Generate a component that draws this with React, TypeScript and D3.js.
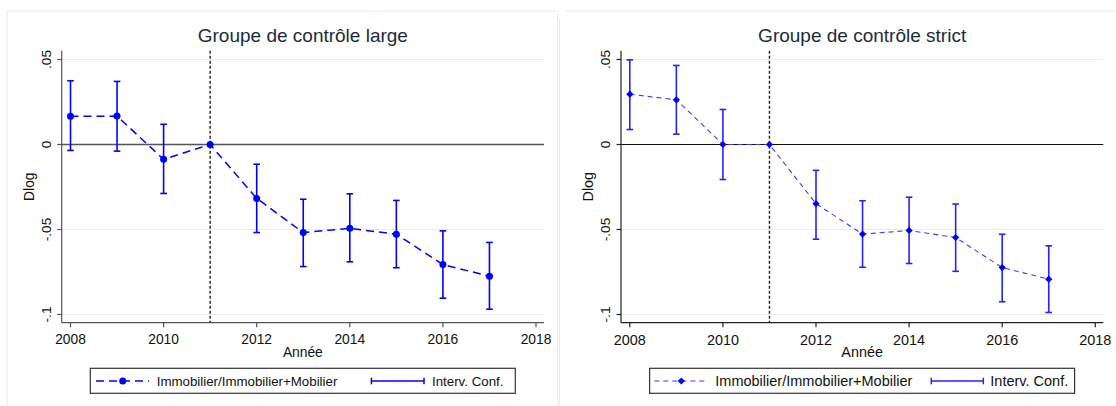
import React from "react";
import * as d3 from "d3";

// Event-study coefficients (Dlog), reference year 2011
const years = [2008, 2009, 2010, 2011, 2012, 2013, 2014, 2015, 2016, 2017];

const largeCoef = [0.0166, 0.0167, -0.0087, 0, -0.0317, -0.0518, -0.0493, -0.0528, -0.0706, -0.0775];
const largeLow = [-0.0035, -0.0039, -0.0288, null, -0.0518, -0.0718, -0.069, -0.0725, -0.0904, -0.0969];
const largeHigh = [0.0375, 0.0371, 0.0119, null, -0.0116, -0.0322, -0.029, -0.0329, -0.0508, -0.0576];

const strictCoef = [0.0296, 0.0263, 0, 0, -0.0348, -0.0527, -0.0506, -0.0547, -0.0724, -0.0792];
const strictLow = [0.0088, 0.0061, -0.0206, null, -0.0557, -0.0722, -0.07, -0.0746, -0.0925, -0.0988];
const strictHigh = [0.0498, 0.0465, 0.0206, null, -0.0152, -0.0331, -0.031, -0.035, -0.0528, -0.0596];

const xTicks = [2008, 2010, 2012, 2014, 2016, 2018];
const yTicks = [0.05, 0, -0.05, -0.1];
const yTickLabels = [".05", "0", "-.05", "-.1"];

const eventYear = 2011;
const seriesLabel = "Immobilier/Immobilier+Mobilier";
const ciLabel = "Interv. Conf.";
const xTitle = "Année";
const yTitle = "Dlog";

const FONT = "'Liberation Sans', Arial, sans-serif";
const BLUE = "#0000ff";

type PanelProps = {
  ox: number;
  title: string;
  coef: number[];
  low: (number | null)[];
  high: (number | null)[];
  variant: "circle" | "diamond";
};

function Panel({ ox, title, coef, low, high, variant }: PanelProps) {
  const left = 61.7;
  const right = 544;
  const top = 50.7;
  const bottom = 322.7;
  const x = d3.scaleLinear().domain([2008, 2018]).range([70.5, 536]);
  const y = d3.scaleLinear().domain([0.05, -0.1]).range([59.5, 314.5]);
  const isStrict = variant === "diamond";
  const fs = isStrict ? 14.4 : 13.8;
  const legFs = isStrict ? 14.5 : 13.3;
  const axisColor = isStrict ? "#222" : "#555";
  const lineColor = isStrict ? "#3a3aff" : BLUE;
  const ciColor = isStrict ? "#2323ff" : BLUE;
  const dash = isStrict ? "5,4" : "8,5";
  const lineW = isStrict ? 1.1 : 1.5;

  const pts = years.map((yr, i) => [x(yr), y(coef[i])] as [number, number]);
  const path = d3.line()(pts) || "";
  const cx = (left + right) / 2;
  const capW = 3.3;

  const marker = (px: number, py: number, key: string | number) =>
    variant === "circle" ? (
      <circle key={key} cx={px} cy={py} r={3.5} fill={BLUE} />
    ) : (
      <path
        key={key}
        d={`M${px},${py - 3.6}L${px + 3.6},${py}L${px},${py + 3.6}L${px - 3.6},${py}Z`}
        fill={BLUE}
      />
    );

  // legend geometry
  const lg = { x0: 90.3, x1: 515.3, y0: 368.3, y1: 393.3 };
  const ly = 381;
  const samp = isStrict ? { a: 95, b: 147, m: 122 } : { a: 96, b: 149, m: 122.7 };
  const textX = isStrict ? 156 : 156.7;
  const ciSamp = isStrict ? { a: 372, b: 424, t: 431 } : { a: 371.4, b: 424, t: 432 };

  return (
    <g transform={`translate(${ox},0)`}>
      {/* title */}
      <text x={cx} y={42} textAnchor="middle" fontSize={19} fill="#1c2b3a" fontFamily={FONT}>
        {title}
      </text>

      {/* horizontal grid */}
      {yTicks.filter((t) => t !== 0).map((t) => (
        <line key={t} x1={left} x2={right} y1={y(t)} y2={y(t)} stroke="#e6efef" strokeWidth={1} />
      ))}
      {/* zero line */}
      <line x1={left} x2={right} y1={y(0)} y2={y(0)} stroke={isStrict ? "#111" : "#555"} strokeWidth={isStrict ? 1.2 : 1.6} />

      {/* axes */}
      <line x1={left} x2={left} y1={top} y2={bottom} stroke={axisColor} strokeWidth={1.2} />
      <line x1={left} x2={right} y1={bottom} y2={bottom} stroke={axisColor} strokeWidth={1.2} />
      {yTicks.map((t, i) => (
        <g key={t}>
          <line x1={left - 4.5} x2={left} y1={y(t)} y2={y(t)} stroke={axisColor} strokeWidth={1.2} />
          <text
            transform={`translate(${left - 11.2},${y(t)}) rotate(-90)`}
            textAnchor="middle"
            fontSize={13.7}
            fill="#111"
            fontFamily={FONT}
          >
            {yTickLabels[i]}
          </text>
        </g>
      ))}
      {xTicks.map((t) => (
        <g key={t}>
          <line x1={x(t)} x2={x(t)} y1={bottom} y2={bottom + 4.5} stroke={axisColor} strokeWidth={1.2} />
          <text x={x(t)} y={isStrict ? 344.5 : 343.5} textAnchor="middle" fontSize={fs} fill="#111" fontFamily={FONT}>
            {t}
          </text>
        </g>
      ))}
      <text x={cx} y={357} textAnchor="middle" fontSize={fs} fill="#111" fontFamily={FONT}>
        {xTitle}
      </text>
      <text
        transform={`translate(34,${(top + bottom) / 2}) rotate(-90)`}
        textAnchor="middle"
        fontSize={fs}
        fill="#111"
        fontFamily={FONT}
      >
        {yTitle}
      </text>

      {/* event year */}
      <line x1={x(eventYear)} x2={x(eventYear)} y1={top} y2={bottom} stroke="#222" strokeWidth={1.4} strokeDasharray="3,2" />

      {/* confidence intervals */}
      {years.map((yr, i) => {
        const lo = low[i];
        const hi = high[i];
        if (lo === null || hi === null) return null;
        const px = x(yr);
        return (
          <g key={yr} stroke={ciColor} strokeWidth={1.6}>
            <line x1={px} x2={px} y1={y(hi)} y2={y(lo)} />
            <line x1={px - capW} x2={px + capW} y1={y(hi)} y2={y(hi)} />
            <line x1={px - capW} x2={px + capW} y1={y(lo)} y2={y(lo)} />
          </g>
        );
      })}

      {/* coefficient line */}
      <path d={path} fill="none" stroke={lineColor} strokeWidth={lineW} strokeDasharray={dash} />
      {pts.map((p, i) => marker(p[0], p[1], i))}

      {/* legend */}
      <rect x={lg.x0} y={lg.y0} width={lg.x1 - lg.x0} height={lg.y1 - lg.y0} fill="#fff" stroke="#333" strokeWidth={1.2} />
      <line x1={samp.a} x2={samp.b} y1={ly} y2={ly} stroke={lineColor} strokeWidth={lineW} strokeDasharray={dash} />
      {marker(samp.m, ly, "leg")}
      <text x={textX} y={386} fontSize={legFs} fill="#111" fontFamily={FONT}>
        {seriesLabel}
      </text>
      <g stroke={ciColor} strokeWidth={1.5}>
        <line x1={ciSamp.a} x2={ciSamp.b} y1={ly} y2={ly} />
        <line x1={ciSamp.a} x2={ciSamp.a} y1={ly - 3.3} y2={ly + 3.3} />
        <line x1={ciSamp.b} x2={ciSamp.b} y1={ly - 3.3} y2={ly + 3.3} />
      </g>
      <text x={ciSamp.t} y={386} fontSize={legFs} fill="#111" fontFamily={FONT}>
        {ciLabel}
      </text>
    </g>
  );
}

export default function App() {
  return (
    <svg
      width={1116}
      height={406}
      style={{ position: "absolute", left: 0, top: 0, background: "#fff" }}
    >
      {/* panel frames */}
      <g stroke="#e8eeef" strokeWidth={1} fill="none">
        <path d="M7,406V11H557.5V406" />
        <path d="M559.5,406V18M566,11H1116" />
      </g>
      <Panel ox={0} title="Groupe de contrôle large" coef={largeCoef} low={largeLow} high={largeHigh} variant="circle" />
      <Panel ox={559.3} title="Groupe de contrôle strict" coef={strictCoef} low={strictLow} high={strictHigh} variant="diamond" />
    </svg>
  );
}
